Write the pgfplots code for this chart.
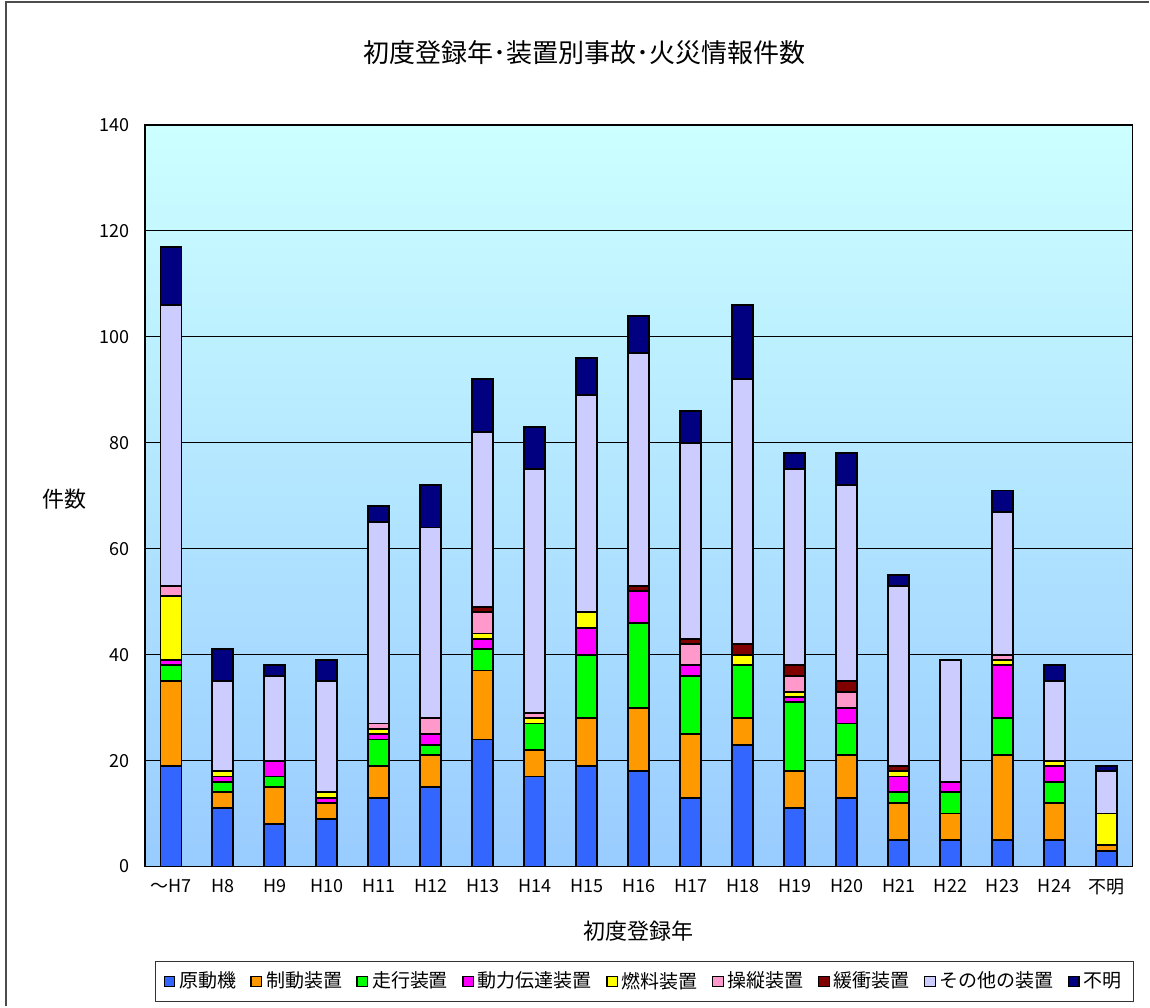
\documentclass[border=0pt]{standalone}
\usepackage{fontspec}
\setmainfont{Noto Sans CJK JP}
\usepackage{pgfplots}
\usepackage{pgfplotstable}
\pgfplotsset{compat=1.18}

\definecolor{cGen}{RGB}{51,102,255}
\definecolor{cSei}{RGB}{255,153,0}
\definecolor{cSou}{RGB}{0,255,0}
\definecolor{cDen}{RGB}{255,0,255}
\definecolor{cNen}{RGB}{255,255,0}
\definecolor{cJuu}{RGB}{255,153,204}
\definecolor{cKan}{RGB}{128,0,0}
\definecolor{cOth}{RGB}{204,204,255}
\definecolor{cFum}{RGB}{0,0,128}

% columns: 原動機 制動 走行 動力伝達 燃料 操縦 緩衝 その他 不明
\pgfplotstableread{
x  a  b  c  d  e  f  g  h  i
0  19 16 3  1  12 2  0  53 11
1  11 3  2  1  1  0  0  17 6
2  8  7  2  3  0  0  0  16 2
3  9  3  0  1  1  0  0  21 4
4  13 6  5  1  1  1  0  38 3
5  15 6  2  2  0  3  0  36 8
6  24 13 4  2  1  4  1  33 10
7  17 5  5  0  1  1  0  46 8
8  19 9  12 5  3  0  0  41 7
9  18 12 16 6  0  0  1  44 7
10 13 12 11 2  0  4  1  37 6
11 23 5  10 0  2  0  2  50 14
12 11 7  13 1  1  3  2  37 3
13 13 8  6  3  0  3  2  37 6
14 5  7  2  3  1  0  1  34 2
15 5  5  4  2  0  0  0  23 0
16 5  16 7  10 1  1  0  27 4
17 5  7  4  3  1  0  0  15 3
18 3  1  0  0  6  0  0  8  1
}\datatable

\begin{document}
\begin{tikzpicture}
  % page: 1150x1007 px at 0.5pt per px, axis lower left at px (145,867)
  \path (-72.5pt,-70pt) rectangle (502.5pt,433.5pt);
  \draw[black!70,line width=0.6pt] (-69.5pt,-70pt) -- (-69.5pt,432.5pt) -- (502.5pt,432.5pt);
\begin{axis}[
  scale only axis,
  width=494pt,
  height=371pt,
  ybar stacked,
  bar width=10.5pt,
  xmin=-0.5, xmax=18.5,
  ymin=0, ymax=140,
  ytick={0,20,...,140},
  xtick=data,
  xticklabels={～H7,H8,H9,H10,H11,H12,H13,H14,H15,H16,H17,H18,H19,H20,H21,H22,H23,H24,不明},
  extra x ticks={0.5,1.5,...,17.5},
  extra x tick labels={},
  extra x tick style={major tick length=3pt, tick align=inside, grid=none, tick style={black!70,line width=0.5pt}},
  x tick style={draw=none},
  y tick style={draw=none},
  ymajorgrids,
  major grid style={black,line width=0.5pt},
  axis line style={black,line width=0.6pt},
  axis background/.style={shade,top color={rgb,255:red,204;green,255;blue,255},bottom color={rgb,255:red,153;green,204;blue,255}},
  tick label style={font=\fontsize{9}{10}\selectfont},
  /pgf/number format/assume math mode=true,
  yticklabel style={xshift=-4pt},
  xticklabel style={yshift=-3pt},
  legend columns=9,
  legend style={at={(0.506,-0.155)},anchor=center,draw=black!80,line width=0.5pt,
    font=\fontsize{9.5}{11}\selectfont,
    /tikz/every even column/.append style={column sep=5.2pt},
    inner xsep=4pt, inner ysep=3pt},
  legend image code/.code={\draw[#1,draw=black,line width=0.6pt] (0pt,-2.6pt) rectangle (5.2pt,2.6pt);},
  every axis plot/.append style={draw=black,line width=0.9pt},
  clip=false,
]
  \addplot[fill=cGen] table[x=x,y=a]{\datatable};
  \addplot[fill=cSei] table[x=x,y=b]{\datatable};
  \addplot[fill=cSou] table[x=x,y=c]{\datatable};
  \addplot[fill=cDen] table[x=x,y=d]{\datatable};
  \addplot[fill=cNen] table[x=x,y=e]{\datatable};
  \addplot[fill=cJuu] table[x=x,y=f]{\datatable};
  \addplot[fill=cKan] table[x=x,y=g]{\datatable};
  \addplot[fill=cOth] table[x=x,y=h]{\datatable};
  \addplot[fill=cFum] table[x=x,y=i]{\datatable};
  \legend{原動機,制動装置,走行装置,動力伝達装置,燃料装置,操縦装置,緩衝装置,その他の装置,不明}
  \node[font=\fontsize{13}{15}\selectfont] at (axis description cs:0.445,1.098) {初度登録年･装置別事故･火災情報件数};
  \node[font=\fontsize{11}{13}\selectfont] at (axis description cs:-0.081,0.495) {件数};
  \node[font=\fontsize{11}{13}\selectfont] at (axis description cs:0.5,-0.0876) {初度登録年};
\end{axis}
\end{tikzpicture}
\end{document}
